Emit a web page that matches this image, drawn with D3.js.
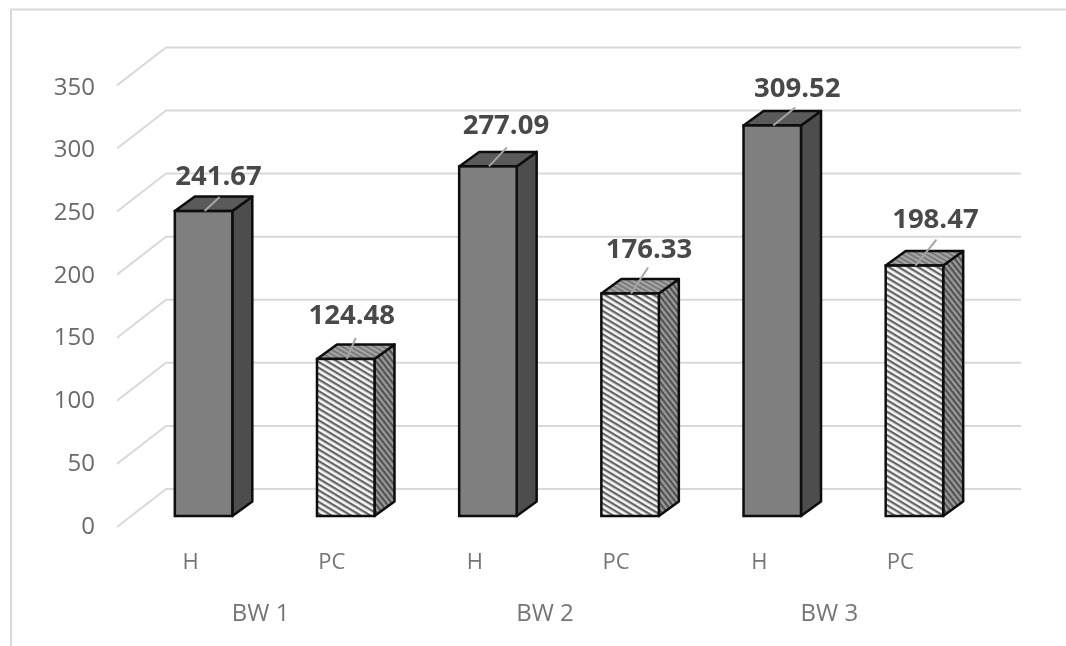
<!DOCTYPE html>
<html><head><meta charset="utf-8">
<script src="https://cdnjs.cloudflare.com/ajax/libs/d3/7.8.5/d3.min.js"></script>
<style>html,body{margin:0;padding:0;background:#fff;overflow:hidden}svg{display:block}text{font-family:"Open Sans",sans-serif}</style>
</head><body><svg id="c" width="1066" height="646"></svg>
<script>
const groups = ["BW 1","BW 2","BW 3"];
const series = ["H","PC"];
const H_values = [241.67,277.09,309.52];
const PC_values = [124.48,176.33,198.47];
const yTicks = [0,50,100,150,200,250,300,350];

const rows = groups.flatMap((g,i)=>[
  {g,s:"H",v:H_values[i]},
  {g,s:"PC",v:PC_values[i]}
]);
// label placement relative to each bar's top-centre, in drawing order (layout only)
const labelLift = [26,35,32,36,28,38];
const labelShift = [15,6,18,19,25,21];
const leaderTip = [[15,-14],[9,-21],[18,-19],[17,-26],[22,-18],[21,-26]];

const svg = d3.select("#c");
const defs = svg.append("defs");
defs.append("filter").attr("id","soft").append("feGaussianBlur").attr("stdDeviation",0.55);
function hatch(id,bg,fg,w,gap,ang){
  const p=defs.append("pattern").attr("id",id).attr("patternUnits","userSpaceOnUse")
    .attr("width",gap).attr("height",gap).attr("patternTransform",`rotate(${ang})`);
  p.append("rect").attr("width",gap).attr("height",gap).attr("fill",bg);
  p.append("rect").attr("width",gap).attr("height",w).attr("fill",fg);
}
hatch("pcFront","#f7f7f7","#666666",2.3,5,31);
hatch("pcSide","#9a9a9a","#505050",2.1,4.4,52);
hatch("pcTop","#a6a6a6","#7a7a7a",2,4,30);

const y = d3.scaleLinear().domain([0,350]).range([516,74.4]);
const x = d3.scaleBand().domain(d3.range(rows.length)).range([132.5,985.5]).paddingInner(0).paddingOuter(0);
const barW = 57.5, dx = 20, dy = -14.5;
const barX = i => x(i)+(x.bandwidth()-barW)/2;

const root = svg.append("g").attr("filter","url(#soft)");
root.append("path").attr("d","M11,646V9.5H1066").attr("fill","none").attr("stroke","#d9d9d9").attr("stroke-width",2);

const gridCol="#d9d9d9";
const grid = root.append("g");
yTicks.forEach(t=>{
  const yb=y(t)-27, yf=y(t)+11;
  grid.append("path").attr("d",`M117,${yf}L166,${yb}H1021`).attr("fill","none").attr("stroke",gridCol).attr("stroke-width",2);
});

const tickY = d3.scaleLinear().domain([0,350]).range([533.5,94.5]);
root.append("g").selectAll("text").data(yTicks).join("text")
  .attr("x",95).attr("y",t=>tickY(t)).attr("text-anchor","end")
  .attr("font-size",24).attr("fill","#6a6a6a").text(t=>t);

const bars = root.append("g").selectAll("g").data(rows).join("g");
const edge="#0d0d0d";
bars.each(function(d,i){
  const g=d3.select(this), x0=barX(i), x1=x0+barW, t=y(d.v), b=y(0), isH=d.s==="H";
  g.append("path").attr("d",`M${x1},${t}l${dx},${dy}V${b+dy}l${-dx},${-dy}Z`)
    .attr("fill",isH?"#4e4e4e":"url(#pcSide)").attr("stroke",edge).attr("stroke-width",2.5).attr("stroke-linejoin","round");
  g.append("path").attr("d",`M${x0},${t}l${dx},${dy}H${x1+dx}l${-dx},${-dy}Z`)
    .attr("fill",isH?"#5a5a5a":"url(#pcTop)").attr("stroke",edge).attr("stroke-width",2.5).attr("stroke-linejoin","round");
  g.append("rect").attr("x",x0).attr("y",t).attr("width",barW).attr("height",b-t)
    .attr("fill",isH?"#7f7f7f":"url(#pcFront)").attr("stroke",edge).attr("stroke-width",2.5);
  const cx=x0+barW/2, tip=leaderTip[i];
  g.append("line").attr("x1",cx+1).attr("y1",t).attr("x2",cx+1+tip[0]).attr("y2",t+tip[1])
    .attr("stroke","#a6a6a6").attr("stroke-width",2);
});

root.append("g").selectAll("text").data(rows).join("text")
  .attr("x",(d,i)=>barX(i)+barW/2+labelShift[i]).attr("y",(d,i)=>y(d.v)-labelLift[i])
  .attr("text-anchor","middle").attr("font-size",27.5).attr("font-weight",700).attr("fill","#4a4a4a")
  .text(d=>d.v.toFixed(2));

root.append("g").selectAll("text").data(rows).join("text")
  .attr("x",(d,i)=>barX(i)+barW/2-(d.s==="H"?13:14)).attr("y",569).attr("text-anchor","middle")
  .attr("font-size",22).attr("fill","#757575").text(d=>d.s);

root.append("g").selectAll("text").data(groups).join("text")
  .attr("x",(d,i)=>(barX(i*2)+barX(i*2+1)+barW)/2-14).attr("y",621).attr("text-anchor","middle")
  .attr("font-size",24).attr("fill","#757575").text(d=>d);
</script></body></html>
